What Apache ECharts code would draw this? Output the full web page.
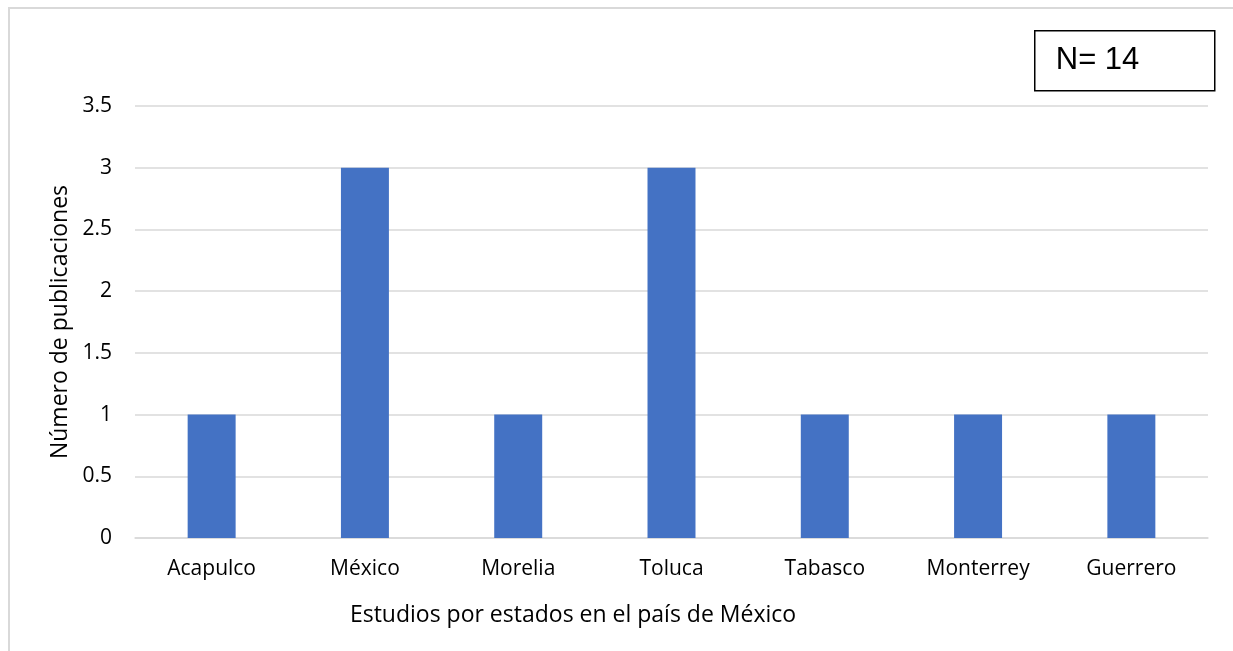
<!DOCTYPE html>
<html>
<head>
<meta charset="utf-8">
<script src="https://cdn.jsdelivr.net/npm/echarts@6/dist/echarts.min.js"></script>
<style>
  html, body { margin: 0; padding: 0; background: #ffffff; }
  #chart { width: 1233px; height: 651px; }
</style>
</head>
<body>
<div id="chart"></div>
<script>
// Estados y número de publicaciones por estado
const categories = ['Acapulco', 'México', 'Morelia', 'Toluca', 'Tabasco', 'Monterrey', 'Guerrero'];
const publicaciones = [1, 3, 1, 3, 1, 1, 1];
const totalLabel = 'N= 14';
const xAxisTitle = 'Estudios por estados en el país de México';
const yAxisTitle = 'Número de publicaciones';

const FONT = '"Open Sans", "DejaVu Sans", sans-serif';
const GRID_COLOR = '#d9d9d9';

const chart = echarts.init(document.getElementById('chart'), null, { renderer: 'canvas' });

chart.setOption({
  backgroundColor: '#ffffff',
  animation: false,
  grid: { left: 135, right: 25, top: 106, bottom: 113, containLabel: false },
  xAxis: {
    type: 'category',
    data: categories,
    name: xAxisTitle,
    nameLocation: 'middle',
    nameGap: 66,
    nameTextStyle: { fontFamily: FONT, fontSize: 23, color: '#000', padding: [0, 197, 0, 0] },
    axisLine: { show: true, lineStyle: { color: GRID_COLOR, width: 1.5 } },
    axisTick: { show: false },
    axisLabel: { fontFamily: FONT, fontSize: 21, color: '#000', margin: 21, interval: 0 }
  },
  yAxis: {
    type: 'value',
    min: 0,
    max: 3.5,
    interval: 0.5,
    name: yAxisTitle,
    nameLocation: 'middle',
    nameGap: 62,
    nameRotate: 90,
    nameTextStyle: { fontFamily: FONT, fontSize: 23, color: '#000' },
    axisLine: { show: false },
    axisTick: { show: false },
    axisLabel: { fontFamily: FONT, fontSize: 21, color: '#000', margin: 23 },
    splitLine: { show: true, lineStyle: { color: GRID_COLOR, width: 1.5 } }
  },
  series: [{
    type: 'bar',
    data: publicaciones,
    barWidth: '31.3%',
    itemStyle: { color: '#4472c4' }
  }],
  graphic: [
    {
      // outer frame of the chart area
      type: 'rect',
      silent: true,
      shape: { x: 9, y: 8, width: 1400, height: 800 },
      style: { fill: 'none', stroke: GRID_COLOR, lineWidth: 2 }
    },
    {
      type: 'group',
      left: 1034,
      top: 30,
      children: [
        {
          type: 'rect',
          shape: { x: 0, y: 0, width: 180, height: 60 },
          style: { fill: '#ffffff', stroke: '#000000', lineWidth: 1.5 }
        },
        {
          type: 'text',
          x: 21,
          y: 30,
          style: {
            text: totalLabel,
            font: '31px "Liberation Sans", Arial, sans-serif',
            fill: '#000000',
            textAlign: 'left',
            textVerticalAlign: 'middle'
          }
        }
      ]
    }
  ]
});
</script>
</body>
</html>
